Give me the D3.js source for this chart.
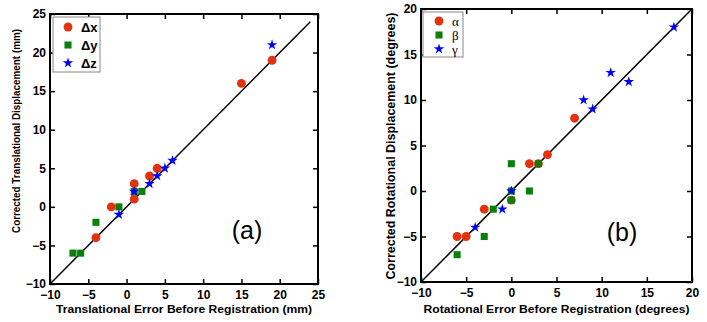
<!DOCTYPE html>
<html><head><meta charset="utf-8">
<script src="https://cdn.jsdelivr.net/npm/d3@7"></script>
<style>body{margin:0;background:#fff}svg{display:block}</style>
</head><body>
<svg id="c" width="707" height="322"></svg>
<script>
// ---- data ----
const transTicks = [-10, -5, 0, 5, 10, 15, 20, 25];
const rotTicks = [-10, -5, 0, 5, 10, 15, 20];
const dxBefore = [-4, -2, 1, 1, 3, 4, 15, 19];
const dxAfter  = [-4,  0, 1, 3, 4, 5, 16, 19];
const dyBefore = [-7, -6, -4, -1, 1, 2];
const dyAfter  = [-6, -6, -2,  0, 2, 2];
const dzBefore = [-1, 1, 3, 4, 5, 6, 19];
const dzAfter  = [-1, 2, 3, 4, 5, 6, 21];
const alphaBefore = [-6, -5, -3,  0, 2, 3, 4, 7];
const alphaAfter  = [-5, -5, -2, -1, 3, 3, 4, 8];
const betaBefore = [-6, -3, -2, 0, 0, 2,  0, 3];
const betaAfter  = [-7, -5, -2, 0, 3, 0, -1, 3];
const gammaBefore = [-4, -1, 0, 8, 9, 11, 13, 18];
const gammaAfter  = [-4, -2, 0, 10, 9, 13, 12, 18];
const transLegend = ["\u0394x", "\u0394y", "\u0394z"];
const rotLegend = ["\u03b1", "\u03b2", "\u03b3"];

const RED = "#e2320f", GREEN = "#0a7f0a", BLUE = "#0000ff";
const svg = d3.select("#c");
const font = "Liberation Sans, Arial, Helvetica, sans-serif";

function panel(opt) {
  const x = d3.scaleLinear().domain(opt.domain).range([opt.x0, opt.x1]);
  const y = d3.scaleLinear().domain(opt.domain).range([opt.y1, opt.y0]);
  const g = svg.append("g");
  const tl = 5;
  g.append("g").attr("transform", `translate(0,${opt.y1})`)
    .call(d3.axisBottom(x).tickValues(opt.ticks).tickSize(-tl).tickPadding(6).tickFormat(d3.format("d")))
    .call(a => { a.select(".domain").remove(); a.selectAll("line").attr("stroke", "#000").attr("stroke-width", 1.5);
      a.selectAll("text").attr("font-family", font).attr("font-weight", "bold").attr("font-size", 12).attr("fill", "#000"); });
  g.append("g").attr("transform", `translate(0,${opt.y0})`)
    .call(d3.axisTop(x).tickValues(opt.ticks).tickSize(-tl).tickFormat(""))
    .call(a => { a.select(".domain").remove(); a.selectAll("line").attr("stroke", "#000").attr("stroke-width", 1.5); });
  g.append("g").attr("transform", `translate(${opt.x0},0)`)
    .call(d3.axisLeft(y).tickValues(opt.ticks).tickSize(-tl).tickPadding(4).tickFormat(d3.format("d")))
    .call(a => { a.select(".domain").remove(); a.selectAll("line").attr("stroke", "#000").attr("stroke-width", 1.5);
      a.selectAll("text").attr("font-family", font).attr("font-weight", "bold").attr("font-size", 12).attr("fill", "#000"); });
  g.append("g").attr("transform", `translate(${opt.x1},0)`)
    .call(d3.axisRight(y).tickValues(opt.ticks).tickSize(-tl).tickFormat(""))
    .call(a => { a.select(".domain").remove(); a.selectAll("line").attr("stroke", "#000").attr("stroke-width", 1.5); });
  g.append("rect").attr("x", opt.x0).attr("y", opt.y0).attr("width", opt.x1 - opt.x0).attr("height", opt.y1 - opt.y0)
    .attr("fill", "none").attr("stroke", "#000").attr("stroke-width", 2);
  g.append("line").attr("x1", x(opt.domain[0])).attr("y1", y(opt.domain[0]))
    .attr("x2", x(opt.lineEnd)).attr("y2", y(opt.lineEnd)).attr("stroke", "#000").attr("stroke-width", 1.5);
  const circ = d3.symbol().type(d3.symbolCircle).size(62);
  const sq = d3.symbol().type(d3.symbolSquare).size(50);
  const star = d3.symbol().type(d3.symbolStar).size(34);
  const series = [
    {b: opt.s[0][0], a: opt.s[0][1], sym: circ, c: RED},
    {b: opt.s[1][0], a: opt.s[1][1], sym: sq, c: GREEN},
    {b: opt.s[2][0], a: opt.s[2][1], sym: star, c: BLUE}
  ];
  series.forEach(s => {
    g.append("g").selectAll("path").data(s.b.map((v, i) => [v, s.a[i]])).join("path")
      .attr("d", s.sym).attr("fill", s.c)
      .attr("transform", d => `translate(${x(d[0])},${y(d[1])})`);
  });
  const L = opt.legend;
  g.append("rect").attr("x", L.x).attr("y", L.y).attr("width", L.w).attr("height", L.h)
    .attr("fill", "#fff").attr("stroke", "#888").attr("stroke-width", 1);
  series.forEach((s, i) => {
    g.append("path").attr("d", s.sym).attr("fill", s.c)
      .attr("transform", `translate(${L.mx},${L.y + L.top + i * L.dy})`);
    g.append("text").attr("x", L.tx).attr("y", L.y + L.top + i * L.dy + 5)
      .attr("font-family", L.font).attr("font-weight", L.weight).attr("font-size", L.fs).text(opt.names[i]);
  });
  g.append("text").attr("x", (opt.x0 + opt.x1) / 2).attr("y", 313).attr("text-anchor", "middle")
    .attr("font-family", font).attr("font-weight", "bold").attr("font-size", 11.5)
    .attr("textLength", opt.xlw).attr("lengthAdjust", "spacingAndGlyphs").text(opt.xlabel);
  g.append("text").attr("transform", `translate(${opt.ylx},${opt.ylc}) rotate(-90)`).attr("text-anchor", "middle")
    .attr("font-family", font).attr("font-weight", "bold").attr("font-size", opt.ylfs)
    .attr("textLength", opt.ylw).attr("lengthAdjust", "spacingAndGlyphs").text(opt.ylabel);
  g.append("text").attr("x", opt.tagX).attr("y", opt.tagY).attr("text-anchor", "middle")
    .attr("font-family", font).attr("font-size", 25).text(opt.tag);
}

panel({
  x0: 50, x1: 318, y0: 14, y1: 284, domain: [-10, 25], ticks: transTicks, lineEnd: 24,
  s: [[dxBefore, dxAfter], [dyBefore, dyAfter], [dzBefore, dzAfter]], names: transLegend,
  legend: {x: 53, y: 17, w: 47, h: 55, mx: 68, tx: 81, top: 10, dy: 18, fs: 13, font: font, weight: "bold"},
  xlabel: "Translational Error Before Registration (mm)", xlw: 256,
  ylabel: "Corrected Translational Displacement (mm)", ylx: 20, ylc: 131, ylw: 204, ylfs: 10.5,
  tag: "(a)", tagX: 247, tagY: 239
});
panel({
  x0: 421, x1: 692, y0: 9, y1: 282, domain: [-10, 20], ticks: rotTicks, lineEnd: 20,
  s: [[alphaBefore, alphaAfter], [betaBefore, betaAfter], [gammaBefore, gammaAfter]], names: rotLegend,
  legend: {x: 423, y: 12, w: 40, h: 45, mx: 439, tx: 452, top: 9, dy: 14, fs: 13, font: "Liberation Serif, Times New Roman, serif", weight: "normal"},
  xlabel: "Rotational Error Before Registration (degrees)", xlw: 266,
  ylabel: "Corrected Rotational Displacement (degrees)", ylx: 395, ylc: 146, ylw: 267, ylfs: 12,
  tag: "(b)", tagX: 622, tagY: 241
});
</script>
</body></html>
